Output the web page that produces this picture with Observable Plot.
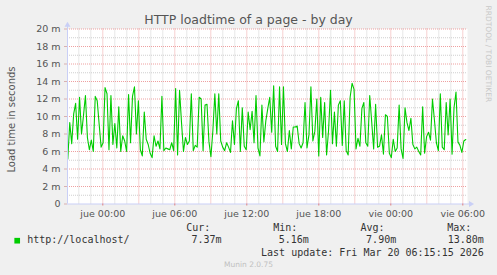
<!DOCTYPE html>
<html><head><meta charset="utf-8">
<script src="https://cdn.jsdelivr.net/npm/d3@7"></script>
<script src="https://cdn.jsdelivr.net/npm/@observablehq/plot@0.6"></script>
<style>
html,body{margin:0;padding:0;background:#F0F0F0;}
#chart svg{display:block;}
</style></head><body><div id="chart"></div>
<script>
// ---- data (values in milliseconds) ----
const chartTitle = "HTTP loadtime of a page - by day";
const yLabel = "Load time in seconds";
const seriesName = "http://localhost/";
const loadtime = [
 5.16, 9.3, 6.9, 10.3, 11.5, 7.4, 12.2, 8.0, 10.1, 12.4, 7.6, 6.2, 7.3, 6.0, 12.3, 11.8, 9.1, 6.5, 7.0, 13.3, 12.6, 6.2, 12.4, 6.8, 9.2, 6.4, 11.1, 6.0, 7.8,
 7.2, 6.0, 12.5, 7.0, 12.3, 13.4, 8.0, 11.8, 6.2, 5.5, 10.5, 7.4, 6.8, 5.8, 5.3, 7.8, 6.6, 7.2, 6.3, 12.3, 6.1, 6.4, 6.3, 6.2, 7.0, 6.1, 13.2, 5.6, 13.0,
 9.3, 6.0, 7.6, 6.8, 7.2, 12.6, 6.1, 6.7, 6.5, 12.2, 12.0, 6.1, 11.3, 11.4, 7.1, 5.4, 8.4, 12.6, 8.0, 12.6, 7.2, 6.5, 6.1, 7.0, 6.5, 5.9, 9.5, 6.8, 10.9,
 11.8, 6.0, 11.0, 6.6, 6.2, 10.5, 8.5, 10.6, 7.0, 12.4, 6.4, 5.5, 11.3, 7.1, 9.5, 10.9, 12.2, 8.2, 13.5, 6.6, 6.0, 13.4, 6.8, 13.4, 6.9, 6.0, 8.4, 6.3, 8.8,
 8.8, 8.9, 6.9, 6.4, 7.0, 11.6, 6.4, 7.9, 13.4, 7.2, 8.3, 12.0, 5.5, 12.2, 7.6, 11.6, 5.6, 8.4, 13.0, 6.9, 10.5, 6.6, 11.3, 11.8, 6.7, 11.8, 6.1, 5.6, 12.2,
 13.8, 13.1, 6.3, 7.5, 6.6, 10.9, 11.6, 7.0, 6.6, 12.4, 9.4, 6.3, 11.4, 6.5, 6.6, 7.9, 5.7, 10.2, 10.0, 5.8, 5.3, 7.4, 6.0, 6.4, 11.3, 6.3, 5.2, 11.0, 9.3,
 8.4, 9.8, 6.8, 6.3, 6.5, 6.0, 5.6, 11.1, 5.8, 7.7, 8.2, 7.3, 12.0, 9.6, 7.0, 6.1, 12.6, 6.5, 6.2, 11.6, 7.9, 12.0, 5.7, 11.0, 12.8, 7.1, 6.7, 5.9, 7.2, 7.37
];
const startTime = "2026-03-18T21:05:00Z";
const endTime = "2026-03-20T06:15:00Z";
const viewStart = "2026-03-18T21:03:30Z";
const viewEnd = "2026-03-20T06:23:30Z";
const yTicks = [0, 2, 4, 6, 8, 10, 12, 14, 16, 18, 20];
const yMinor = [1, 3, 5, 7, 9, 11, 13, 15, 17, 19];
const xLabelTimes = ["2026-03-19T00:00:00Z", "2026-03-19T06:00:00Z", "2026-03-19T12:00:00Z", "2026-03-19T18:00:00Z", "2026-03-20T00:00:00Z", "2026-03-20T06:00:00Z"];
const xLabels = ["jue 00:00", "jue 06:00", "jue 12:00", "jue 18:00", "vie 00:00", "vie 06:00"];
const legendHeaders = ["Cur:", "Min:", "Avg:", "Max:"];
const legendValues = ["7.37m", "5.16m", "7.90m", "13.80m"];
const lastUpdate = "Last update: Fri Mar 20 06:15:15 2026";
const footer = "Munin 2.0.75";
const sideText = "RRDTOOL / TOBI OETIKER";

// ---- layout ----
const L = 67, R = 467, T = 28.5, B = 203.5;
const t0 = new Date(startTime), t1 = new Date(endTime);
const n = loadtime.length;
const data = loadtime.map((v, i) => ({t: new Date(+t0 + i * (t1 - t0) / (n - 1)), v}));
const domainX = [new Date(viewStart), new Date(viewEnd)];
const hours = d3.utcHour.range(domainX[0], domainX[1]);
const major3 = hours.filter(d => d.getUTCHours() % 3 === 0);
const minorH = hours.filter(d => d.getUTCHours() % 3 !== 0);
const labelDates = xLabelTimes.map(d => new Date(d));
const labelOf = new Map(labelDates.map((d, i) => [+d, xLabels[i]]));
const at = (X, Y) => ({frameAnchor: "bottom-left", dx: X - L, dy: Y - B});
const mono = "DejaVu Sans Mono";
const axisCol = "#c9cff6";
const redGrid = "#eea0a0";
const grayGrid = "#cfcfcf";
const arrowEnd = new Date(+domainX[1] + 16 * 60000);

const txt = (s, X, Y, o = {}) => Plot.text([s], {text: d => d, ...at(X, Y), lineAnchor: "middle", ...o});

const chart = Plot.plot({
  width: 497, height: 275,
  marginLeft: L, marginRight: 497 - R, marginTop: T, marginBottom: 275 - B,
  style: {background: "#F0F0F0", fontFamily: "DejaVu Sans", overflow: "visible"},
  x: {type: "utc", domain: domainX},
  y: {domain: [0, 20]},
  marks: [
    Plot.frame({fill: "white", stroke: null}),
    Plot.ruleY(yMinor, {stroke: grayGrid, strokeDasharray: "1,1"}),
    Plot.ruleX(minorH, {stroke: grayGrid, strokeDasharray: "1,1"}),
    Plot.ruleY(yTicks.filter(d => d > 0), {stroke: redGrid, strokeDasharray: "1,1"}),
    Plot.ruleX(major3, {stroke: redGrid, strokeDasharray: "1,1"}),
    Plot.line(data, {x: "t", y: "v", stroke: "#00CC00", strokeWidth: 1.1}),
    Plot.ruleX([domainX[0]], {y1: 0, y2: 20.3, stroke: axisCol}),
    Plot.ruleY([0], {x1: domainX[0], x2: arrowEnd, stroke: axisCol}),
    Plot.dot([0], {x: () => domainX[0], y: () => 20.45, symbol: "triangle", r: 2.2, fill: axisCol, stroke: null}),
    Plot.dot([0], {x: () => arrowEnd, y: () => 0, symbol: "triangle", r: 2.2, rotate: 90, fill: axisCol, stroke: null}),
    Plot.axisY(yTicks, {anchor: "left", tickFormat: d => d === 0 ? "0" : d + " m", tickSize: 3, tickPadding: 4, stroke: "#d8b0b0", fill: "#555", fontSize: 9.5, label: null}),
    Plot.axisX(labelDates, {anchor: "bottom", tickFormat: d => labelOf.get(+d), tickSize: 2, tickPadding: 4, stroke: "#e08080", fill: "#555", fontSize: 9.5, label: null}),
    txt(chartTitle, 248, 19.3, {textAnchor: "middle", fontSize: 12.5, fill: "#555"}),
    txt(yLabel, 11, 119, {textAnchor: "middle", rotate: -90, fontSize: 10, fill: "#555"}),
    Plot.text([sideText], {text: d => d, ...at(488, 5), rotate: 90, textAnchor: "start", lineAnchor: "middle", fontSize: 7.5, fill: "#c8c8c8"}),
    Plot.dot([0], {...at(16.7, 240.2), symbol: "square", r: 3.2, fill: "#00CC00", stroke: null}),
    txt(seriesName, 26.7, 239.5, {textAnchor: "start", fontFamily: mono, fontSize: 10, fill: "#333"}),
    txt(legendHeaders[0], 185.7, 227.5, {textAnchor: "start", fontFamily: mono, fontSize: 10, fill: "#333"}),
    txt(legendHeaders[1], 272.7, 227.5, {textAnchor: "start", fontFamily: mono, fontSize: 10, fill: "#333"}),
    txt(legendHeaders[2], 360, 227.5, {textAnchor: "start", fontFamily: mono, fontSize: 10, fill: "#333"}),
    txt(legendHeaders[3], 446.7, 227.5, {textAnchor: "start", fontFamily: mono, fontSize: 10, fill: "#333"}),
    txt(legendValues[0], 221, 239.5, {textAnchor: "end", fontFamily: mono, fontSize: 10, fill: "#333"}),
    txt(legendValues[1], 308.3, 239.5, {textAnchor: "end", fontFamily: mono, fontSize: 10, fill: "#333"}),
    txt(legendValues[2], 395.7, 239.5, {textAnchor: "end", fontFamily: mono, fontSize: 10, fill: "#333"}),
    txt(legendValues[3], 483.3, 239.5, {textAnchor: "end", fontFamily: mono, fontSize: 10, fill: "#333"}),
    txt(lastUpdate, 483.3, 251.8, {textAnchor: "end", fontFamily: mono, fontSize: 10, fill: "#333"}),
    txt(footer, 248, 264, {textAnchor: "middle", fontSize: 7.5, fill: "#c0c0c0"})
  ]
});
document.getElementById("chart").appendChild(chart);
</script></body></html>
